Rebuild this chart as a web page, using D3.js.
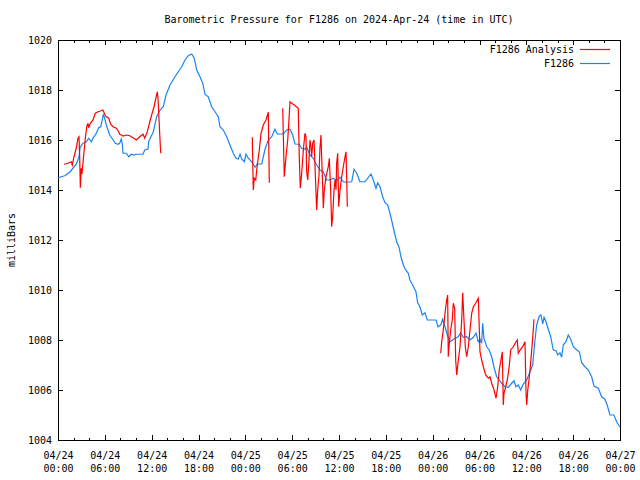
<!DOCTYPE html>
<html>
<head>
<meta charset="utf-8">
<script src="https://cdn.jsdelivr.net/npm/d3@7"></script>
<style>
  html, body { margin: 0; padding: 0; background: #fff; }
  svg { display: block; }
  text { font-family: "DejaVu Sans Mono", "Liberation Mono", monospace; font-size: 10px; fill: #000; }
</style>
</head>
<body>
<div id="chart"></div>
<script>
// ---- Data (hours since 2024-04-24 00:00 UTC, pressure in mb) ----
const startTime = Date.UTC(2024, 3, 24, 0, 0);
const endTime = Date.UTC(2024, 3, 27, 0, 0);

const stationHours = [0.00,0.42,0.86,1.50,1.92,2.34,2.69,2.82,3.20,3.63,3.93,4.27,4.48,4.91,5.21,5.47,5.68,5.80,5.98,6.19,6.41,6.62,6.92,7.34,7.69,7.90,8.11,8.24,8.33,8.75,9.06,9.39,9.74,10.03,10.89,11.11,11.53,11.62,11.79,12.21,12.64,13.07,13.49,13.84,14.35,14.99,15.41,15.85,16.27,16.69,17.13,17.46,17.77,18.19,18.54,18.83,19.25,19.69,20.11,20.54,20.75,21.18,21.61,22.03,22.46,22.80,23.10,23.32,23.53,23.87,24.08,24.38,24.81,25.24,25.53,26.10,26.52,26.94,27.38,27.80,28.10,28.86,29.30,29.72,30.07,30.36,30.91,31.22,31.64,31.86,32.28,32.71,33.14,33.56,33.99,34.42,34.85,35.27,35.70,36.13,36.55,36.98,37.63,37.92,38.27,38.69,39.33,40.10,40.39,40.74,40.96,41.25,41.60,41.89,42.24,42.53,42.83,43.08,43.39,43.69,43.94,44.24,44.54,44.88,45.09,45.44,45.86,46.08,46.37,46.67,47.02,47.31,48.43,48.68,49.03,49.28,49.58,49.87,50.22,50.86,51.28,51.59,51.93,52.36,52.78,53.21,53.55,53.85,54.06,54.28,54.41,54.57,54.92,55.25,55.56,55.89,56.20,56.53,56.84,57.26,57.69,58.12,58.42,58.67,58.97,59.28,59.61,60.05,60.47,60.81,61.11,61.32,61.66,61.88,62.10,62.27,62.52,62.81,63.12,63.45,63.80,64.02,64.31,64.53,64.73,65.08,65.37,65.68,66.02,66.36,66.79,67.09,67.51,67.94,68.37,68.67,69.22,69.65,70.07,70.36,70.71,71.22,71.57,71.90,72.00];
const stationPressure = [1014.48,1014.53,1014.57,1014.71,1014.87,1015.03,1015.33,1015.69,1015.87,1015.93,1016.07,1015.93,1016.07,1016.27,1016.49,1016.53,1016.80,1017.03,1016.87,1016.60,1016.40,1016.20,1016.07,1015.87,1015.83,1015.87,1016.04,1015.83,1015.47,1015.47,1015.33,1015.43,1015.40,1015.43,1015.43,1015.60,1015.64,1015.93,1016.05,1016.33,1016.93,1017.20,1017.33,1017.80,1018.20,1018.53,1018.73,1018.93,1019.20,1019.37,1019.44,1019.27,1018.80,1018.53,1018.27,1017.83,1017.73,1017.33,1017.13,1016.93,1016.53,1016.40,1016.13,1015.80,1015.47,1015.27,1015.24,1015.43,1015.24,1015.13,1015.43,1015.27,1015.13,1014.91,1015.04,1015.04,1015.63,1016.00,1016.13,1016.43,1016.24,1016.24,1016.40,1016.43,1016.20,1015.84,1015.83,1015.67,1015.63,1015.71,1015.40,1015.27,1015.00,1014.80,1014.73,1014.40,1014.40,1014.47,1014.37,1014.51,1014.33,1014.31,1014.33,1014.83,1014.67,1014.33,1014.33,1014.64,1014.40,1014.07,1014.29,1014.13,1013.73,1013.49,1013.40,1013.07,1012.67,1012.33,1011.93,1011.71,1011.33,1011.00,1010.80,1010.67,1010.40,1010.20,1009.93,1009.49,1009.33,1009.00,1009.09,1008.80,1008.80,1008.53,1008.60,1008.83,1008.53,1008.20,1007.93,1008.07,1008.13,1008.29,1008.11,1008.13,1008.00,1008.11,1008.27,1007.93,1008.03,1007.87,1008.67,1008.07,1007.73,1007.60,1007.33,1006.87,1006.53,1006.40,1006.27,1006.13,1006.11,1006.27,1006.37,1006.13,1006.20,1006.00,1006.24,1006.40,1006.73,1007.00,1008.00,1008.60,1008.96,1009.00,1008.64,1008.91,1008.73,1008.43,1008.13,1007.60,1007.57,1007.40,1007.49,1007.31,1007.80,1007.93,1008.20,1008.03,1007.73,1007.63,1007.53,1007.09,1006.93,1006.80,1006.53,1006.16,1006.07,1005.73,1005.63,1005.40,1005.00,1005.00,1004.73,1004.56,1004.52];

// Analysis series; null marks a gap between runs
const analysisHours = [0.77,1.28,1.70,1.83,2.05,2.34,2.56,2.69,2.78,2.86,2.98,3.07,3.29,3.50,3.68,3.84,3.93,4.14,4.48,4.78,5.12,5.55,5.76,5.98,6.19,6.49,6.75,7.05,7.47,7.78,7.90,8.11,8.33,8.75,9.19,9.61,10.03,10.47,10.89,11.11,11.44,11.88,12.30,12.72,12.81,13.07,13.16,13.5,
 24.89,25.02,25.15,25.33,25.53,25.79,26.01,26.30,26.65,26.94,27.07,27.9,
 28.79,28.86,28.99,29.08,29.21,29.43,29.59,29.72,29.85,30.27,30.78,30.91,31.04,31.22,31.43,31.64,31.77,31.86,31.99,32.15,32.28,32.41,32.50,32.63,32.80,32.92,33.14,33.27,33.44,33.56,33.69,33.78,33.91,33.99,34.12,34.33,34.63,34.76,34.93,35.06,35.19,35.36,35.49,35.62,35.70,35.83,35.96,36.13,36.35,36.55,36.77,36.90,37.07,40.0,
 49.03,49.16,49.36,49.58,49.80,49.92,50.00,50.09,50.31,50.51,50.64,50.82,50.95,51.08,51.24,51.50,51.72,51.85,52.01,52.18,52.36,52.57,52.78,53.00,53.21,53.51,53.85,53.98,54.06,54.28,54.49,54.79,55.13,55.35,55.56,55.86,56.12,56.33,56.53,56.75,56.92,57.05,57.14,57.36,57.56,57.78,58.00,58.33,58.68,58.84,58.97,59.19,59.53,59.83,59.96,60.05,60.18,60.34,60.47,60.69,60.89,60.98];
const analysisPressure = [1015.03,1015.07,1015.13,1015.00,1015.33,1015.67,1016.07,1016.13,1015.33,1014.09,1014.87,1014.63,1015.40,1016.07,1016.53,1016.67,1016.49,1016.67,1016.80,1017.07,1017.13,1017.17,1017.20,1017.03,1016.93,1016.87,1016.63,1016.53,1016.47,1016.33,1016.23,1016.20,1016.16,1016.20,1016.17,1016.09,1016.00,1016.13,1016.23,1016.07,1016.33,1016.87,1017.33,1017.93,1017.67,1016.00,1015.47,null,
 1016.11,1014.00,1014.47,1014.40,1015.00,1015.60,1016.27,1016.60,1016.80,1017.11,1014.29,null,
 1017.27,1016.27,1014.53,1014.87,1015.33,1016.00,1016.80,1017.53,1017.49,1017.40,1017.27,1015.33,1014.07,1014.67,1015.60,1016.27,1016.13,1014.73,1014.40,1015.13,1016.00,1015.73,1015.33,1015.87,1016.00,1015.00,1013.20,1014.00,1014.60,1015.67,1016.20,1015.33,1014.13,1013.27,1014.00,1014.53,1014.93,1015.27,1014.00,1012.53,1012.93,1014.00,1014.40,1014.00,1015.07,1015.47,1013.33,1014.00,1014.53,1014.93,1015.33,1015.53,1013.33,null,
 1007.47,1007.93,1008.40,1009.07,1009.60,1009.80,1007.33,1007.73,1008.40,1008.80,1009.47,1009.27,1007.20,1006.60,1007.07,1007.73,1008.80,1009.89,1008.80,1007.73,1007.33,1007.73,1008.40,1009.07,1009.33,1009.47,1009.67,1008.40,1007.53,1007.20,1006.93,1006.60,1006.47,1006.53,1006.27,1006.00,1005.67,1006.13,1006.80,1007.20,1007.53,1005.40,1005.87,1006.13,1006.40,1006.87,1007.60,1007.73,1007.93,1008.00,1007.47,1007.60,1007.73,1007.93,1005.87,1005.40,1006.00,1006.40,1006.80,1007.60,1008.40,1008.83];

const yTicks = [1004, 1006, 1008, 1010, 1012, 1014, 1016, 1018, 1020];
const titleText = "Barometric Pressure for F1286 on 2024-Apr-24 (time in UTC)";
const yLabel = "milliBars";
const seriesNames = ["F1286 Analysis", "F1286"];
const seriesColors = ["#ff0000", "#1a84ee"];

// ---- Layout ----
const W = 640, H = 480;
const L = 58, R = 620, T = 40, B = 440;

const toDate = h => new Date(startTime + h * 3600000);

const x = d3.scaleUtc().domain([new Date(startTime), new Date(endTime)]).range([L, R]);
const y = d3.scaleLinear().domain([1004, 1020]).range([B, T]);

const svg = d3.select("#chart").append("svg").attr("width", W).attr("height", H);

const majorTicks = d3.utcHour.every(6).range(new Date(startTime), new Date(endTime + 1));
const minorTicks = d3.utcHour.every(2).range(new Date(startTime), new Date(endTime + 1));
const fmt1 = d3.utcFormat("%m/%d"), fmt2 = d3.utcFormat("%H:%M");

function styleAxis(g) {
  g.select(".domain").remove();
  g.selectAll(".tick line").attr("stroke", "#000").attr("shape-rendering", "crispEdges");
  g.selectAll("text").attr("font-family", null).attr("font-size", null);
}

// bottom axis: minor + major (inward)
svg.append("g").attr("transform", `translate(0,${B})`)
  .call(d3.axisBottom(x).tickValues(minorTicks).tickSize(-2.5).tickSizeOuter(0).tickFormat(""))
  .call(styleAxis);
const bx = svg.append("g").attr("transform", `translate(0,${B})`)
  .call(d3.axisBottom(x).tickValues(majorTicks).tickSize(-5).tickSizeOuter(0).tickPadding(10).tickFormat(fmt1))
  .call(styleAxis);
bx.selectAll(".tick text").each(function(d) {
  const t = d3.select(this);
  t.text(null).attr("dy", null).attr("y", 19);
  t.append("tspan").attr("x", 0).attr("y", 19).text(fmt1(d));
  t.append("tspan").attr("x", 0).attr("y", 32).text(fmt2(d));
});

// top axis (inward)
svg.append("g").attr("transform", `translate(0,${T})`)
  .call(d3.axisTop(x).tickValues(minorTicks).tickSize(-2.5).tickSizeOuter(0).tickFormat(""))
  .call(styleAxis);
svg.append("g").attr("transform", `translate(0,${T})`)
  .call(d3.axisTop(x).tickValues(majorTicks).tickSize(-5).tickSizeOuter(0).tickFormat(""))
  .call(styleAxis);

// left axis
svg.append("g").attr("transform", `translate(${L},0)`)
  .call(d3.axisLeft(y).tickValues(yTicks).tickSize(-5).tickSizeOuter(0).tickPadding(6).tickFormat(d3.format("d")))
  .call(styleAxis);
// right axis
svg.append("g").attr("transform", `translate(${R},0)`)
  .call(d3.axisRight(y).tickValues(yTicks).tickSize(-5).tickSizeOuter(0).tickFormat(""))
  .call(styleAxis);

// border
svg.append("rect").attr("x", L + 0.5).attr("y", T + 0.5).attr("width", R - L).attr("height", B - T)
  .attr("fill", "none").attr("stroke", "#000").attr("stroke-width", 1).attr("shape-rendering", "crispEdges");

// series
const stationData = stationHours.map((h, i) => ({ t: toDate(h), p: stationPressure[i] }));
const analysisData = analysisHours.map((h, i) => ({ t: toDate(h), p: analysisPressure[i] }));

const line = d3.line().defined(d => d.p != null).x(d => x(d.t)).y(d => y(d.p));

svg.append("path").datum(stationData).attr("d", line)
  .attr("fill", "none").attr("stroke", seriesColors[1]).attr("stroke-width", 1.2);
svg.append("path").datum(analysisData).attr("d", line)
  .attr("fill", "none").attr("stroke", seriesColors[0]).attr("stroke-width", 1.2);

// title
svg.append("text").attr("x", (L + R) / 2).attr("y", 23).attr("text-anchor", "middle").text(titleText);

// y label
svg.append("text").attr("transform", `translate(15,${(T + B) / 2}) rotate(-90)`)
  .attr("text-anchor", "middle").text(yLabel);

// legend
const legend = svg.append("g");
seriesNames.forEach((name, i) => {
  const ly = 49 + i * 14;
  legend.append("text").attr("x", 574).attr("y", ly).attr("dy", "0.35em").attr("text-anchor", "end").text(name);
  legend.append("line").attr("x1", 580).attr("x2", 610).attr("y1", ly + 0.5).attr("y2", ly + 0.5)
    .attr("stroke", seriesColors[i]).attr("stroke-width", 1.2);
});
</script>
</body>
</html>
